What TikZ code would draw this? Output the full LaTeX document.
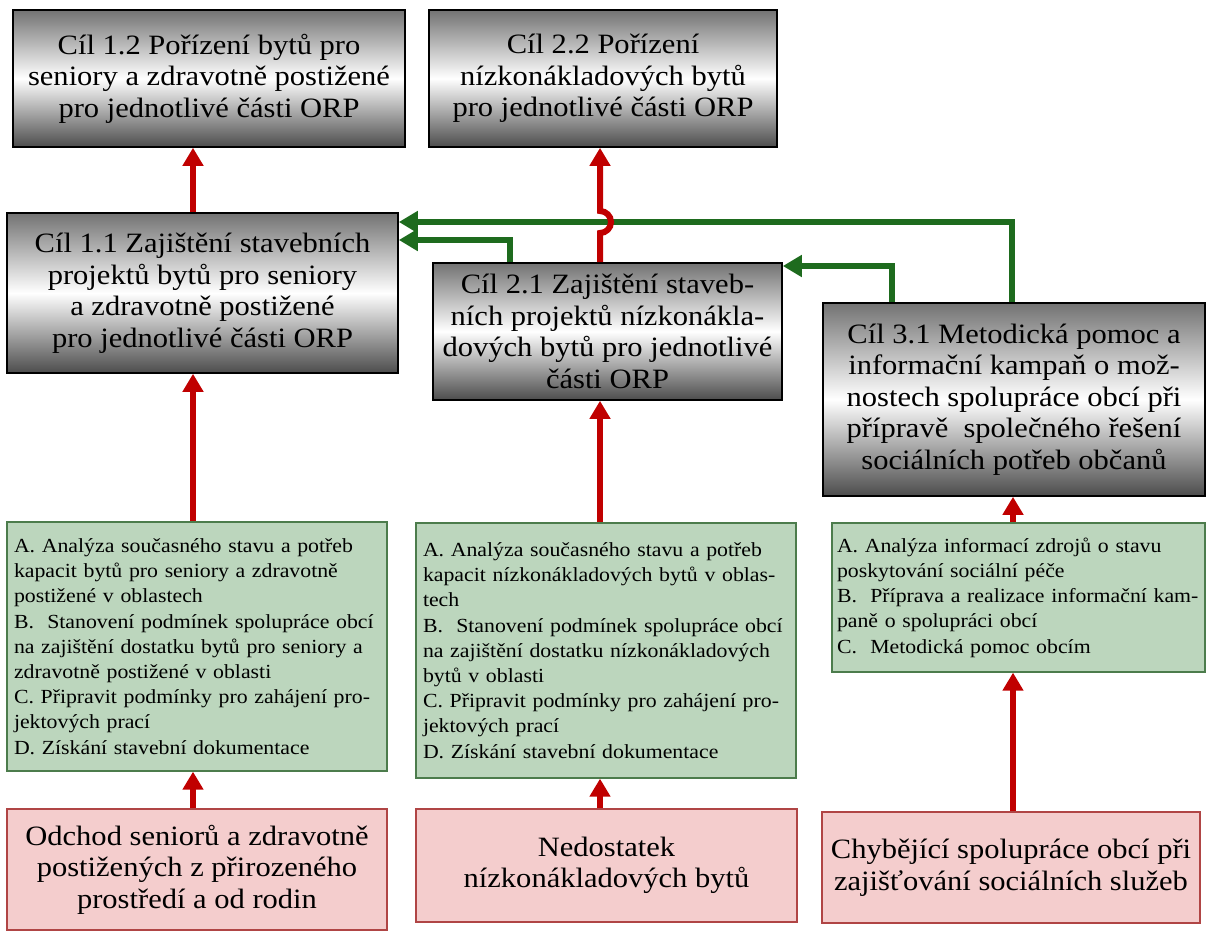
\documentclass[tikz,border=0pt]{standalone}
\usepackage{fontspec}
\setmainfont{Liberation Serif}[FakeStretch=1.09]
\usepackage{tikz}
\usetikzlibrary{positioning, arrows.meta}
\definecolor{cRedArrow}  {HTML}{C00000}
\definecolor{cGreenArrow}{HTML}{1E6B1E}
\definecolor{cActFill}   {HTML}{BCD6BD}
\definecolor{cActLine}   {HTML}{4C7C4C}
\definecolor{cCauseFill} {HTML}{F4CDCD}
\definecolor{cCauseLine} {HTML}{B04545}

\tikzset{
  goalbox/.style={draw=black, line width=1.6pt,
    top color=black!55, bottom color=black!70, middle color=white,
    align=center, inner sep=2pt,
    font=\fontsize{28}{31.5}\selectfont},
  actbox/.style={draw=cActLine, line width=1.3pt, fill=cActFill,
    align=left, inner xsep=7pt, inner ysep=2pt,
    font=\fontsize{20}{25.2}\selectfont},
  causebox/.style={draw=cCauseLine, line width=1.3pt, fill=cCauseFill,
    align=center, inner sep=2pt,
    font=\fontsize{28}{31.5}\selectfont},
  redarrow/.style={draw=cRedArrow, line width=6pt,
    -{Triangle[width=20pt, length=18pt]}},
  greenarrow/.style={draw=cGreenArrow, line width=6pt,
    -{Triangle[width=21pt, length=19pt]}},
}

\begin{document}
\begin{tikzpicture}[x=1pt, y=-1pt]
  \useasboundingbox (0,0) rectangle (1208,930);

  % goals, upper row
  \node[goalbox, minimum width=392pt, minimum height=137pt] (g12) at (209,78.5)
    {Cíl 1.2 Pořízení bytů pro\\seniory a zdravotně postižené\\pro jednotlivé části ORP};
  \node[goalbox, minimum width=348pt, minimum height=137pt] (g22) at (603,78.5)
    {Cíl 2.2 Pořízení\\nízkonákladových bytů\\pro jednotlivé části ORP};

  % goals, lower row
  \node[goalbox, minimum width=391pt, minimum height=160pt] (g11) at (202.5,293)
    {Cíl 1.1 Zajištění stavebních\\projektů bytů pro seniory\\a zdravotně postižené\\pro jednotlivé části ORP};
  \node[goalbox, minimum width=349pt, minimum height=137pt] (g21) at (607.5,331.5)
    {Cíl 2.1 Zajištění staveb-\\ních projektů nízkonákla-\\dových bytů pro jednotlivé\\části ORP};
  \node[goalbox, minimum width=382pt, minimum height=193pt] (g31) at (1014,399.5)
    {Cíl 3.1 Metodická pomoc a\\informační kampaň o mož-\\nostech spolupráce obcí při\\přípravě~ společného řešení\\sociálních potřeb občanů};

  % activities
  \node[actbox, text width=366pt, minimum height=249pt] (a1) at (197,646.5)
    {A. Analýza současného stavu a potřeb\\kapacit bytů pro seniory a zdravotně\\postižené v oblastech\\B.~ Stanovení podmínek spolupráce obcí\\na zajištění dostatku bytů pro seniory a\\zdravotně postižené v oblasti\\C. Připravit podmínky pro zahájení pro-\\jektových prací\\D. Získání stavební dokumentace};
  \node[actbox, text width=366pt, minimum height=255pt] (a2) at (606,650.5)
    {A. Analýza současného stavu a potřeb\\kapacit nízkonákladových bytů v oblas-\\tech\\B.~ Stanovení podmínek spolupráce obcí\\na zajištění dostatku nízkonákladových\\bytů v oblasti\\C. Připravit podmínky pro zahájení pro-\\jektových prací\\D. Získání stavební dokumentace};
  \node[actbox, inner xsep=5pt, text width=363pt, minimum height=149pt] (a3) at (1018.5,597.5)
    {A. Analýza informací zdrojů o stavu\\poskytování sociální péče\\B.~ Příprava a realizace informační kam-\\paně o spolupráci obcí\\C.~ Metodická pomoc obcím};

  % causes
  \node[causebox, minimum width=380pt, minimum height=121pt] (r1) at (197,869.5)
    {Odchod seniorů a zdravotně\\postižených z přirozeného\\prostředí a od rodin};
  \node[causebox, minimum width=381pt, minimum height=113pt] (r2) at (606.5,865.5)
    {Nedostatek\\nízkonákladových bytů};
  \node[causebox, minimum width=378pt, minimum height=111pt] (r3) at (1011,867.5)
    {Chybějící spolupráce obcí při\\zajišťování sociálních služeb};

  % columns and rows of the connectors
  \coordinate (x1) at (193,0);
  \coordinate (x2) at (600,0);
  \coordinate (x3) at (1013,0);
  \coordinate (xa) at (510,0);
  \coordinate (xb) at (892,0);
  \coordinate (xc) at (1012,0);
  \coordinate (y1) at (0,222);
  \coordinate (y2) at (0,240);
  \coordinate (y3) at (0,266);
  \coordinate (hop) at (600,233);

  % green links
  \draw[greenarrow] (g31.north -| xc) |- (g11.east |- y1);
  \draw[greenarrow] (g21.north -| xa) |- (g11.east |- y2);
  \draw[greenarrow] (g31.north -| xb) |- (g21.east |- y3);

  % red links
  \draw[redarrow] (g11.north -| x1) -- (g12.south -| x1);
  \draw[redarrow] (a1.north -| x1) -- (g11.south -| x1);
  \draw[redarrow] (r1.north -| x1) -- (a1.south -| x1);
  \draw[redarrow] (g21.north -| x2) -- (hop)
    arc[start angle=90, end angle=-90, radius=11] -- (g22.south -| x2);
  \draw[redarrow] (a2.north -| x2) -- (g21.south -| x2);
  \draw[redarrow] (r2.north -| x2) -- (a2.south -| x2);
  \draw[redarrow] (a3.north -| x3) -- (g31.south -| x3);
  \draw[redarrow] (r3.north -| x3) -- (a3.south -| x3);
\end{tikzpicture}
\end{document}
